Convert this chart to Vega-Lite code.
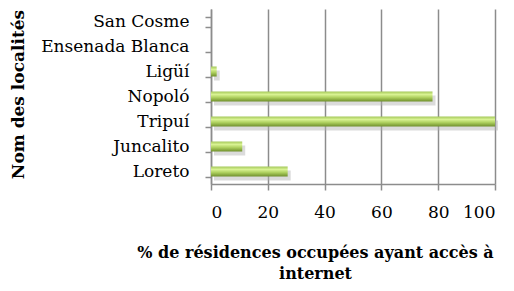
{
  "$schema": "https://vega.github.io/schema/vega-lite/v6.json",
  "autosize": {"type": "none"},
  "padding": {"left": 211, "top": 9, "right": 19, "bottom": 107},
  "width": 284,
  "height": 175,
  "background": "white",
  "config": {"view": {"stroke": null}, "font": "DejaVu Serif"},
  "data": {"values": [
    {"localite": "San Cosme", "pct": 0},
    {"localite": "Ensenada Blanca", "pct": 0},
    {"localite": "Ligüí", "pct": 2},
    {"localite": "Nopoló", "pct": 78},
    {"localite": "Tripuí", "pct": 100},
    {"localite": "Juncalito", "pct": 11},
    {"localite": "Loreto", "pct": 27}
  ]},
  "encoding": {
    "y": {"field": "localite", "type": "nominal", "sort": null,
      "scale": {"paddingInner": 0.6, "paddingOuter": 0.3},
      "axis": {"title": "Nom des localités", "titleFont": "DejaVu Serif", "titleFontSize": 17, "titleFontWeight": "bold", "titleColor": "black",
        "titleX": -193, "titleY": 85, "titleAngle": -90, "titleAlign": "center", "titleBaseline": "middle",
        "labelFont": "DejaVu Serif", "labelFontSize": 17, "labelColor": "black", "labelPadding": 16,
        "domainColor": "#8c8c8c", "domainWidth": 1.5, "tickColor": "#8c8c8c", "tickWidth": 1.5, "tickSize": 6,
        "tickBand": "extent", "grid": false}},
    "x": {"field": "pct", "type": "quantitative",
      "scale": {"domain": [0, 100], "nice": false},
      "axis": {"values": [0, 20, 40, 60, 80, 100], "title": ["% de résidences occupées ayant accès à", "internet"],
        "titleFont": "DejaVu Serif", "titleFontSize": 16, "titleFontWeight": "bold", "titleColor": "black", "titleLineHeight": 21,
        "titleX": 104, "titleY": 60, "titleAlign": "center", "titleBaseline": "top",
        "labelFont": "DejaVu Serif", "labelFontSize": 17, "labelColor": "black", "labelPadding": 14,
        "domainColor": "#8c8c8c", "domainWidth": 1.5, "tickColor": "#8c8c8c", "tickWidth": 1.5, "tickSize": 6,
        "grid": true, "gridColor": "#8c8c8c", "gridWidth": 1.5}}
  },
  "layer": [
    {"mark": {"type": "bar", "color": "#b0b0b0", "opacity": 0.45, "xOffset": 3, "yOffset": 4}},
    {"mark": {"type": "bar",
      "color": {"gradient": "linear", "x1": 0, "y1": 0, "x2": 0, "y2": 1,
        "stops": [{"offset": 0, "color": "#a4c85a"}, {"offset": 0.3, "color": "#d8f292"}, {"offset": 0.6, "color": "#aed05f"}, {"offset": 1, "color": "#6f8f2c"}]}}}
  ]
}
